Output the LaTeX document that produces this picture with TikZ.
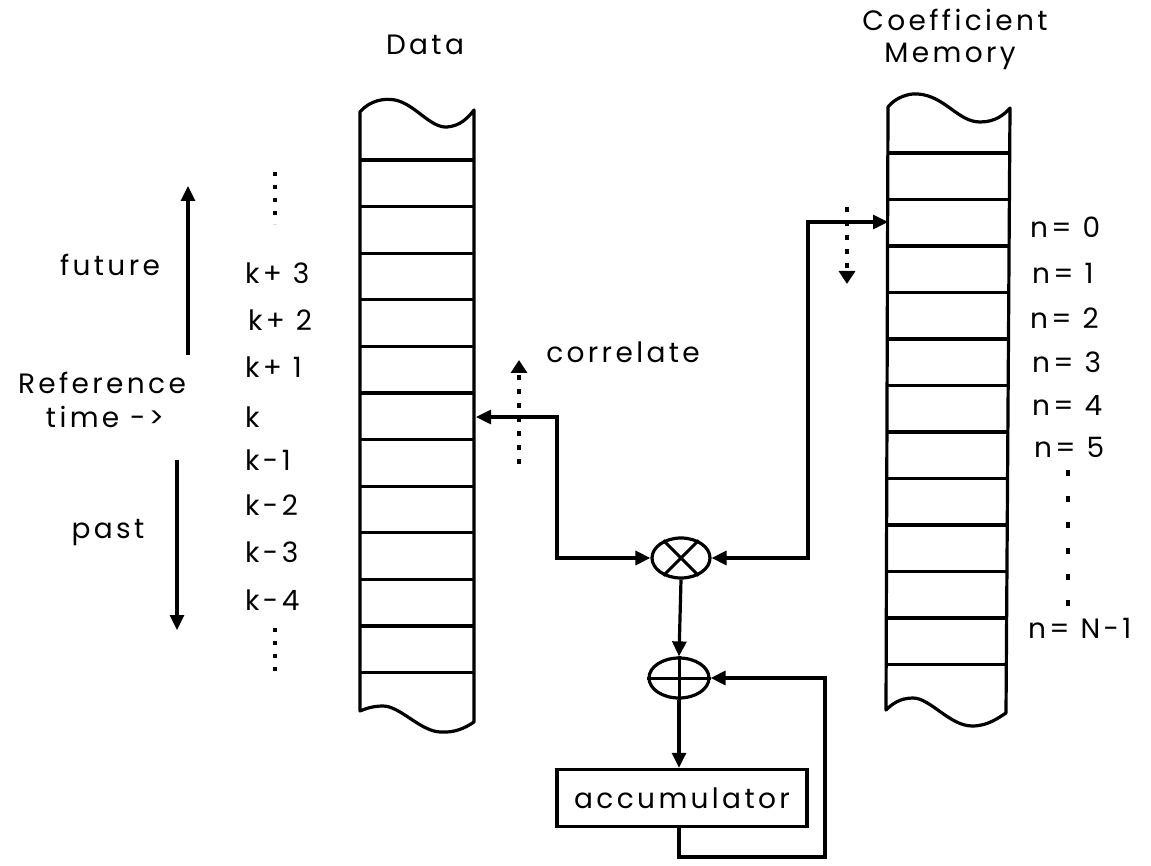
\documentclass[tikz,border=0pt]{standalone}
\usepackage{fontspec}
\setmainfont{Poppins}[LetterSpace=12]
\usetikzlibrary{arrows.meta,shapes.geometric}
\begin{document}
\begin{tikzpicture}[x=1pt,y=-1pt,
  lbl/.style={font=\fontsize{28}{30}\selectfont, inner sep=0pt},
  wire/.style={line width=3.2pt},
  tip/.tip={Triangle[length=15pt,width=14pt]},
  arr/.style={wire,-tip},
  dotline/.style={line width=3.8pt, dash pattern=on 4pt off 9pt},
  dotarr/.style={line width=3.8pt, dash pattern=on 5pt off 9pt, -{Triangle[length=13pt,width=16pt]}},
  cell/.style={line width=3.2pt, line join=round}]
\useasboundingbox (0,0) rectangle (1151,866);

% ---------- Data column ----------
\draw[cell] (360,112) .. controls (370,100) and (385,98) .. (395,100)
  .. controls (415,104) and (430,128) .. (447,127)
  .. controls (460,126) and (468,118) .. (474,110) -- (474,722)
  .. controls (465,728) and (455,733) .. (440,732)
  .. controls (420,731) and (400,706) .. (383,706)
  .. controls (372,706) and (365,709) .. (360,711) -- cycle;
\foreach \i in {0,...,11} \draw[cell] (360,{160+46.6*\i}) -- (474,{160+46.6*\i});

% ---------- Coefficient column ----------
\draw[cell] (888,107) .. controls (895,98) and (908,93) .. (918,94)
  .. controls (945,96) and (958,122) .. (980,122)
  .. controls (995,122) and (1004,115) .. (1010,108) -- (1006,713)
  .. controls (998,718) and (988,726) .. (972,726)
  .. controls (950,726) and (930,698) .. (913,698)
  .. controls (900,698) and (892,704) .. (886,710) -- cycle;
\foreach \i in {0,...,11} \draw[cell] (887,{153+46.5*\i}) -- (1008,{153+46.5*\i});

% ---------- Titles ----------
\node[lbl] (tdata) at (425,45) {Data};
\node[lbl] (tcoef) at (955,20) {Coefficient};
\node[lbl] (tmem) at (950,56) {Memory};

% ---------- Left labels ----------
\node[lbl] (future) at (110,265) {future};
\node[lbl] (ref) at (102,383) {Reference};
\node[lbl] (time) at (105,417) {time ->};
\node[lbl] (past) at (108,533) {past};
\coordinate (fut0) at (188,355);
\coordinate (fut1) at (188,186);
\coordinate (pst0) at (177,460);
\coordinate (pst1) at (177,630);
\draw[arr] (fut0) -- (fut1);
\draw[arr] (pst0) -- (pst1);

\node[lbl, anchor=west] (k3) at (245,273) {k+ 3};
\node[lbl, anchor=west] (k2) at (248,320) {k+ 2};
\node[lbl, anchor=west] (k1) at (245,367) {k+ 1};
\node[lbl, anchor=west] (k0) at (245,417) {k};
\node[lbl, anchor=west] (km1) at (245,460) {k-1};
\node[lbl, anchor=west] (km2) at (245,505) {k-2};
\node[lbl, anchor=west] (km3) at (245,552) {k-3};
\node[lbl, anchor=west] (km4) at (245,600) {k-4};
\coordinate (dtop0) at (275,172);
\coordinate (dtop1) at (275,224);
\coordinate (dbot0) at (275,628);
\coordinate (dbot1) at (275,676);
\draw[dotline] (dtop0) -- (dtop1);
\draw[dotline] (dbot0) -- (dbot1);

% ---------- Right labels ----------
\node[lbl, anchor=west] (n0) at (1030,227) {n= 0};
\node[lbl, anchor=west] (n1) at (1032,273) {n= 1};
\node[lbl, anchor=west] (n2) at (1030,318) {n= 2};
\node[lbl, anchor=west] (n3) at (1032,362) {n= 3};
\node[lbl, anchor=west] (n4) at (1032,405) {n= 4};
\node[lbl, anchor=west] (n5) at (1034,447) {n= 5};
\node[lbl, anchor=west] (nN) at (1028,628) {n= N-1};
\coordinate (ndot0) at (1068,470);
\coordinate (ndot1) at (1068,606);
\draw[line width=4pt, dash pattern=on 6pt off 20pt] (ndot0) -- (ndot1);

% ---------- correlate ----------
\node[lbl] (corr) at (623,352) {correlate};
\coordinate (cu0) at (519,464);
\coordinate (cu1) at (519,360);
\draw[dotarr] (cu0) -- (cu1);
\coordinate (cd0) at (847,207);
\coordinate (cd1) at (847,284);
\draw[dotarr] (cd0) -- (cd1);

% ---------- MAC ----------
\node[ellipse, draw, line width=3.2pt, minimum width=58pt, minimum height=40pt, inner sep=0pt] (mul) at (681,558) {};
\draw[line width=3pt] (mul.45) -- (mul.225) (mul.135) -- (mul.315);
\node[ellipse, draw, line width=3.2pt, minimum width=60pt, minimum height=40pt, inner sep=0pt] (add) at (679,678) {};
\draw[line width=3pt] (add.north) -- (add.south) (add.west) -- (add.east);
\node[draw, line width=3.4pt, minimum width=250pt, minimum height=57pt, inner sep=0pt, font=\fontsize{28}{30}\selectfont] (acc) at (682,798) {accumulator};

\coordinate (dk) at (476,417);
\coordinate (b1) at (557,417);
\coordinate (b2) at (557,558);
\draw[wire, tip-tip] (dk) -- (b1) -- (b2) -- (mul.west);

\coordinate (cn) at (888,222);
\coordinate (b3) at (808,222);
\coordinate (b4) at (808,558);
\draw[wire, tip-tip] (cn) -- (b3) -- (b4) -- (mul.east);

\draw[arr] (mul.south) -- (add.north);
\draw[arr] (add.south) -- (acc.north -| add.south);

\coordinate (f1) at (679,857);
\coordinate (f2) at (825,857);
\coordinate (f3) at (825,678);
\draw[wire, -tip] (acc.south -| f1) -- (f1) -- (f2) -- (f3) -- (add.east);
\end{tikzpicture}
\end{document}
